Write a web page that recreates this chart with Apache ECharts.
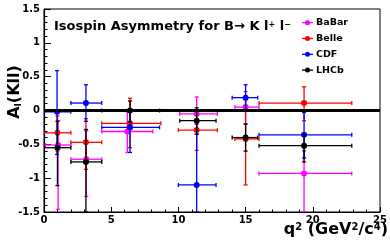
<!DOCTYPE html>
<html>
<head>
<meta charset="utf-8">
<script src="https://cdn.jsdelivr.net/npm/echarts@6/dist/echarts.min.js"></script>
<style>
html,body{margin:0;padding:0;background:#fff;}
#chart{width:390px;height:249px;}
</style>
</head>
<body>
<div id="chart"></div>
<script>
// Each row: [q2 centre, q2 low, q2 high, A_I, A_I low, A_I high]
const babar = [
  [1.05, 0.1, 2.0, -0.51, -1.46, -0.15],
  [3.15, 2.0, 4.3, -0.72, -1.27, -0.30],
  [6.2, 4.3, 8.1, -0.31, -0.62, -0.02],
  [11.36, 10.1, 12.9, -0.05, -0.35, 0.20],
  [15.0, 14.2, 16.0, 0.05, -0.20, 0.28],
  [19.35, 16.0, 22.9, -0.93, -1.5, -0.60]
];
const belle = [
  [1.0, 0.0, 2.0, -0.33, -0.60, -0.08],
  [3.12, 2.0, 4.3, -0.47, -0.87, -0.12],
  [6.4, 4.3, 8.7, -0.19, -0.55, 0.18],
  [11.36, 10.0, 12.9, -0.29, -0.59, 0.00],
  [15.0, 14.2, 16.0, -0.42, -1.10, 0.16],
  [19.35, 16.0, 22.9, 0.11, -0.15, 0.35]
];
const cdf = [
  [0.97, 0.0, 2.0, -0.02, -0.65, 0.59],
  [3.12, 2.0, 4.3, 0.11, -0.16, 0.38],
  [6.4, 4.3, 8.6, -0.25, -0.62, -0.02],
  [11.36, 10.0, 12.8, -1.10, -1.5, -0.20],
  [15.0, 14.0, 15.9, 0.19, 0.00, 0.38],
  [19.35, 16.0, 22.9, -0.36, -0.70, -0.03]
];
const lhcb = [
  [1.0, 0.0, 2.0, -0.55, -1.11, -0.16],
  [3.12, 2.0, 4.3, -0.76, -1.5, -0.28],
  [6.4, 4.3, 8.6, 0.00, -0.17, 0.14],
  [11.36, 10.1, 12.8, -0.15, -0.35, 0.04],
  [15.0, 14.0, 15.9, -0.40, -0.60, -0.20],
  [19.35, 16.0, 22.9, -0.52, -0.76, -0.36]
];
const seriesNames = ['BaBar', 'Belle', 'CDF', 'LHCb'];
const seriesColors = ['#ff00ff', '#ff0000', '#0000ff', '#000000'];
const seriesData = [babar, belle, cdf, lhcb];
const xTicks = { min: 0, max: 25, interval: 5 };
const yTicks = { min: -1.5, max: 1.5, interval: 0.5 };

const FONT = 'DejaVu Sans';

function makeRender(color) {
  return function (params, api) {
    const x = api.value(0), xlo = api.value(1), xhi = api.value(2);
    const y = api.value(3), ylo = api.value(4), yhi = api.value(5);
    const c = api.coord([x, y]);
    const l = api.coord([xlo, y]);
    const r = api.coord([xhi, y]);
    const b = api.coord([x, ylo]);
    const t = api.coord([x, yhi]);
    const cap = 2;
    const ls = { stroke: color, lineWidth: 1.3 };
    const children = [
      { type: 'line', shape: { x1: l[0], y1: c[1], x2: r[0], y2: c[1] }, style: ls },
      { type: 'line', shape: { x1: c[0], y1: b[1], x2: c[0], y2: t[1] }, style: ls },
      { type: 'line', shape: { x1: l[0], y1: c[1] - cap, x2: l[0], y2: c[1] + cap }, style: ls },
      { type: 'line', shape: { x1: r[0], y1: c[1] - cap, x2: r[0], y2: c[1] + cap }, style: ls },
      { type: 'line', shape: { x1: c[0] - cap, y1: b[1], x2: c[0] + cap, y2: b[1] }, style: ls },
      { type: 'line', shape: { x1: c[0] - cap, y1: t[1], x2: c[0] + cap, y2: t[1] }, style: ls },
      { type: 'circle', shape: { cx: c[0], cy: c[1], r: 3 }, style: { fill: color } }
    ];
    return { type: 'group', children: children };
  };
}

const series = seriesNames.map(function (name, i) {
  return {
    type: 'custom',
    name: name,
    renderItem: makeRender(seriesColors[i]),
    data: seriesData[i],
    encode: { x: [0, 1, 2], y: [3, 4, 5] },
    clip: true,
    z: 2 + i
  };
});
series.push({
  type: 'line',
  name: 'zero',
  data: [],
  z: 10,
  markLine: {
    silent: true,
    symbol: 'none',
    animation: false,
    label: { show: false },
    lineStyle: { color: '#000', width: 3, type: 'solid' },
    data: [{ yAxis: 0 }]
  }
});

// Legend drawn as graphic entries
const legendGraphics = [];
seriesNames.forEach(function (name, i) {
  const yy = 22.7 + i * 15.8;
  legendGraphics.push({ type: 'line', shape: { x1: 302, y1: yy, x2: 313, y2: yy }, style: { stroke: seriesColors[i], lineWidth: 1.3 } });
  legendGraphics.push({ type: 'circle', shape: { cx: 307.5, cy: yy, r: 2.5 }, style: { fill: seriesColors[i] } });
  legendGraphics.push({ type: 'text', x: 316, y: yy, style: { text: name, font: 'bold 9.5px "' + FONT + '"', fill: '#000', verticalAlign: 'middle', align: 'left' } });
});

const chart = echarts.init(document.getElementById('chart'), null, { renderer: 'canvas' });
chart.setOption({
  animation: false,
  backgroundColor: '#fff',
  grid: { left: 44, right: 10, top: 9, bottom: 37, show: true, borderColor: '#000', borderWidth: 1, backgroundColor: 'transparent' },
  xAxis: {
    type: 'value', min: xTicks.min, max: xTicks.max, interval: xTicks.interval,
    axisLine: { show: true, onZero: false, lineStyle: { color: '#000', width: 1.2 } },
    axisTick: { show: true, inside: true, length: 5, lineStyle: { color: '#000', width: 1 } },
    minorTick: { show: true, splitNumber: 5, length: 2.5, lineStyle: { color: '#000', width: 1 } },
    axisLabel: { color: '#000', fontFamily: FONT, fontWeight: 'bold', fontSize: 10, margin: 3 },
    splitLine: { show: false }
  },
  yAxis: {
    type: 'value', min: yTicks.min, max: yTicks.max, interval: yTicks.interval,
    axisLine: { show: true, onZero: false, lineStyle: { color: '#000', width: 1.2 } },
    axisTick: { show: true, inside: true, length: 7, lineStyle: { color: '#000', width: 1 } },
    minorTick: { show: true, splitNumber: 5, length: 3.5, lineStyle: { color: '#000', width: 1 } },
    axisLabel: { color: '#000', fontFamily: FONT, fontWeight: 'bold', fontSize: 10, margin: 4,
      formatter: function (v) { return String(v); } },
    splitLine: { show: false }
  },
  series: series,
  graphic: [
    {
      type: 'text', x: 54, y: 27,
      style: {
        text: 'Isospin Asymmetry for B\u2192 K l{sup|+} l{sup|\u2212}',
        font: 'bold 13px "' + FONT + '"', fill: '#000', verticalAlign: 'middle', align: 'left',
        rich: { sup: { fontFamily: FONT, fontWeight: 'bold', fontSize: 8, verticalAlign: 'top', fill: '#000' } }
      }
    },
    {
      type: 'text', x: 388, y: 230,
      style: {
        text: 'q{sup|2} (GeV{sup|2}/c{sup|4})',
        font: 'bold 16px "' + FONT + '"', fill: '#000', verticalAlign: 'middle', align: 'right',
        rich: { sup: { fontFamily: FONT, fontWeight: 'bold', fontSize: 10, verticalAlign: 'top', fill: '#000' } }
      }
    },
    {
      type: 'text', x: 15, y: 92, rotation: Math.PI / 2,
      style: {
        text: 'A{sub|I}(Kll)',
        font: 'bold 16px "' + FONT + '"', fill: '#000', verticalAlign: 'middle', align: 'center',
        rich: { sub: { fontFamily: FONT, fontWeight: 'bold', fontSize: 9, verticalAlign: 'bottom', fill: '#000' } }
      }
    }
  ].concat(legendGraphics)
});
</script>
</body>
</html>
